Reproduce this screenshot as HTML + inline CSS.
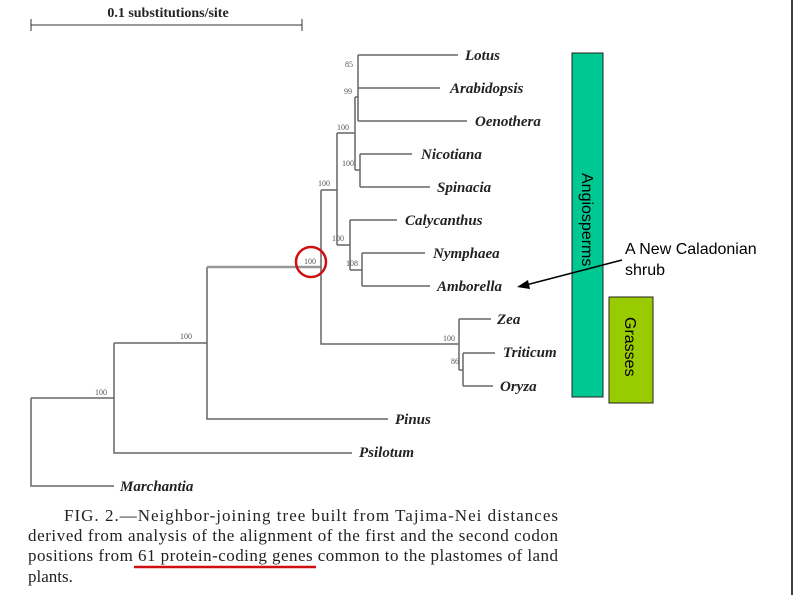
<!DOCTYPE html>
<html><head><meta charset="utf-8"><style>
body{margin:0;background:#fff;}
svg{display:block}
.t{font-family:"Liberation Serif",serif;font-weight:bold;font-style:italic;font-size:15px;fill:#222}
.n{font-family:"Liberation Serif",serif;font-size:8px;fill:#555}
.c{font-family:"Liberation Serif",serif;font-size:17px;fill:#222}
.a{font-family:"Liberation Sans",sans-serif;font-size:16px;fill:#000}
</style></head><body>
<svg width="794" height="595" viewBox="0 0 794 595" xmlns="http://www.w3.org/2000/svg">
<text x="168" y="17" text-anchor="middle" style="font-family:'Liberation Serif',serif;font-weight:bold;font-size:14px;fill:#222">0.1 substitutions/site</text>
<g stroke="#333" stroke-width="1" fill="none">
<path d="M31 25H302M31 19V31M302 19V31"/>
</g>
<g stroke="#666" stroke-width="1.5" fill="none">
<path d="M31 398V486H114M31 398H114M114 343V453H352M114 343H207M207 267V419H388"/>
<path d="M207 267H321" stroke="#999" stroke-width="2.5"/>
<path d="M321 190V344H459M459 319V370M459 319H491M459 370H463M463 353V386M463 353H495M463 386H493" />
<path d="M321 190H337M337 133V245M337 133H355M355 97V170M355 97H358M358 55V121M358 55H458M358 88H440M358 121H467" />
<path d="M355 170H360M360 154V187M360 154H412M360 187H430" />
<path d="M337 245H350M350 220V270M350 220H397M350 270H362M362 253V286M362 253H425M362 286H430"/>
</g>
<text class="t" x="465" y="60">Lotus</text>
<text class="t" x="450" y="93">Arabidopsis</text>
<text class="t" x="475" y="126">Oenothera</text>
<text class="t" x="421" y="159">Nicotiana</text>
<text class="t" x="437" y="192">Spinacia</text>
<text class="t" x="405" y="225">Calycanthus</text>
<text class="t" x="433" y="258">Nymphaea</text>
<text class="t" x="437" y="291">Amborella</text>
<text class="t" x="497" y="324">Zea</text>
<text class="t" x="503" y="357">Triticum</text>
<text class="t" x="500" y="391">Oryza</text>
<text class="t" x="395" y="424">Pinus</text>
<text class="t" x="359" y="457">Psilotum</text>
<text class="t" x="120" y="491">Marchantia</text>
<text class="n" x="345" y="67">85</text>
<text class="n" x="344" y="94">99</text>
<text class="n" x="337" y="130">100</text>
<text class="n" x="342" y="166">100</text>
<text class="n" x="318" y="186">100</text>
<text class="n" x="332" y="241">100</text>
<text class="n" x="304" y="264">100</text>
<text class="n" x="346" y="266">108</text>
<text class="n" x="443" y="341">100</text>
<text class="n" x="451" y="364">86</text>
<text class="n" x="180" y="339">100</text>
<text class="n" x="95" y="395">100</text>
<circle cx="311" cy="262" r="15" fill="none" stroke="#d01010" stroke-width="2.5"/>
<rect x="572" y="53" width="31" height="344" fill="#00c893" stroke="#222" stroke-width="1"/>
<rect x="609" y="297" width="44" height="106" fill="#99cc00" stroke="#222" stroke-width="1"/>
<text class="a" transform="translate(582,173) rotate(90)">Angiosperms</text>
<text class="a" transform="translate(625,317) rotate(90)">Grasses</text>
<line x1="622" y1="260" x2="526" y2="285" stroke="#000" stroke-width="1.5"/>
<polygon points="517,287 528,280 530,289" fill="#000"/>
<text class="a" x="625" y="254">A New Caladonian</text>
<text class="a" x="625" y="275">shrub</text>
<line x1="792" y1="0" x2="792" y2="595" stroke="#000" stroke-width="1.5"/>
<text class="c" x="64" y="521" textLength="494" lengthAdjust="spacing">FIG. 2.—Neighbor-joining tree built from Tajima-Nei distances</text>
<text class="c" x="28" y="541" textLength="530" lengthAdjust="spacing">derived from analysis of the alignment of the first and the second codon</text>
<text class="c" x="28" y="561" textLength="530" lengthAdjust="spacing">positions from 61 protein-coding genes common to the plastomes of land</text>
<text class="c" x="28" y="582">plants.</text>
<line x1="134" y1="567" x2="316" y2="567" stroke="#d01010" stroke-width="2.5"/>
</svg>
</body></html>
